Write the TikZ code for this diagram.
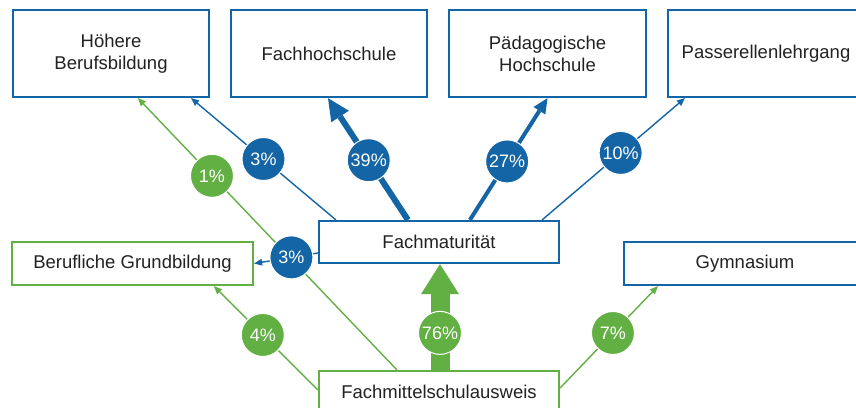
\documentclass[tikz,border=0pt]{standalone}
\usepackage{fontspec}
\setmainfont{Liberation Sans}
\usetikzlibrary{arrows.meta,calc}
\definecolor{fmsblue}{RGB}{20,101,166}
\definecolor{fmsgreen}{RGB}{98,176,67}
\definecolor{ink}{RGB}{34,34,34}
\begin{document}
\begin{tikzpicture}[x=1pt,y=-1pt,
  box/.style={draw, line width=2.2pt, fill=white, minimum height=87pt, align=center,
    text=ink, font=\fontsize{18.5}{22}\selectfont, inner sep=0pt},
  bluebox/.style={box, draw=fmsblue},
  greenbox/.style={box, draw=fmsgreen},
  pct/.style={circle, draw=white, line width=1pt, minimum size=43pt, inner sep=0pt,
    text=white, font=\fontsize{18}{18}\selectfont},
  bpct/.style={pct, fill=fmsblue},
  gpct/.style={pct, fill=fmsgreen},
  thin tip/.style={-{Triangle[length=8pt,width=7pt,line width=0pt]}},
  bline/.style={draw=fmsblue, line width=1.4pt, thin tip},
  gline/.style={draw=fmsgreen, line width=1.4pt, thin tip},
]
\fill[white] (0,0) rectangle (856,407);
\useasboundingbox (0,0) rectangle (856,407);

% destinations
\node[bluebox, minimum width=196pt] (hbb) at (111,53.5) {Höhere\\Berufsbildung};
\node[bluebox, minimum width=196pt] (fh)  at (329,53.5) {Fachhochschule};
\node[bluebox, minimum width=197pt] (ph)  at (547.5,53.5) {Pädagogische\\Hochschule};
\node[bluebox, minimum width=196pt] (pl)  at (766,53.5) {Passerellenlehrgang};
\node[bluebox, minimum width=240pt, minimum height=42pt] (fm) at (439,242) {Fachmaturität};
\node[greenbox, minimum width=241pt, minimum height=43pt] (bg) at (132.5,263.5) {Berufliche Grundbildung};
\node[bluebox, minimum width=242pt, minimum height=43pt] (gy) at (745,263.5) {Gymnasium};
\node[greenbox, minimum width=240pt, minimum height=42pt] (fms) at (439,392) {Fachmittelschulausweis};

% connector end points on the box borders
\coordinate (g1s) at ($(fms.north west)+(79,0)$);
\coordinate (g1e) at ($(hbb.south west)+(126,0)$);
\coordinate (b1s) at ($(fm.north west)+(18,0)$);
\coordinate (b1e) at ($(hbb.south east)+(-19,0)$);
\coordinate (b2s) at ($(fm.north west)+(90,0)$);
\coordinate (b2e) at ($(fh.south)+(-1,0)$);
\coordinate (b3s) at ($(fm.north west)+(152,0)$);
\coordinate (b3e) at (ph.south);
\coordinate (b4s) at ($(fm.north east)+(-18,0)$);
\coordinate (b4e) at ($(pl.south west)+(18,0)$);
\coordinate (b5s) at ($(fm.west)+(0,11)$);
\coordinate (b5e) at (bg.east);
\coordinate (g2s) at ($(fms.west)+(0,-2)$);
\coordinate (g2e) at ($(bg.south west)+(203,0)$);
\coordinate (g3s) at ($(fms.north)+(1,0)$);
\coordinate (g3e) at ($(fm.south)+(1,0)$);
\coordinate (g4s) at ($(fms.east)+(0,-4)$);
\coordinate (g4e) at ($(gy.south west)+(35,0)$);

% flows out of the Fachmittelschulausweis and the Fachmaturität
\draw[gline] (g1s) -- node[gpct, pos=0.714] (c1) {1\%} (g1e);
\draw[bline] (b1s) -- node[bpct, pos=0.5] (c2) {3\%} (b1e);
\draw[draw=fmsblue, line width=6pt, -{Triangle[length=22pt,width=21pt,line width=0pt]}]
  (b2s) -- node[bpct, pos=0.49] (c3) {39\%} (b2e);
\draw[draw=fmsblue, line width=4pt, -{Triangle[length=15pt,width=14pt,line width=0pt]}]
  (b3s) -- node[bpct, pos=0.48] (c4) {27\%} (b3e);
\draw[bline] (b4s) -- node[bpct, pos=0.55] (c5) {10\%} (b4e);
\draw[bline] (b5s) -- node[bpct, pos=0.415] (c6) {3\%} (b5e);
\draw[gline] (g2s) -- node[gpct, pos=0.53] (c7) {4\%} (g2e);
\draw[draw=fmsgreen, line width=19pt, -{Triangle[length=30pt,width=38pt,line width=0pt]}]
  (g3s) -- node[gpct, pos=0.35] (c8) {76\%} (g3e);
\draw[gline] (g4s) -- node[gpct, pos=0.54] (c9) {7\%} (g4e);
\end{tikzpicture}
\end{document}
